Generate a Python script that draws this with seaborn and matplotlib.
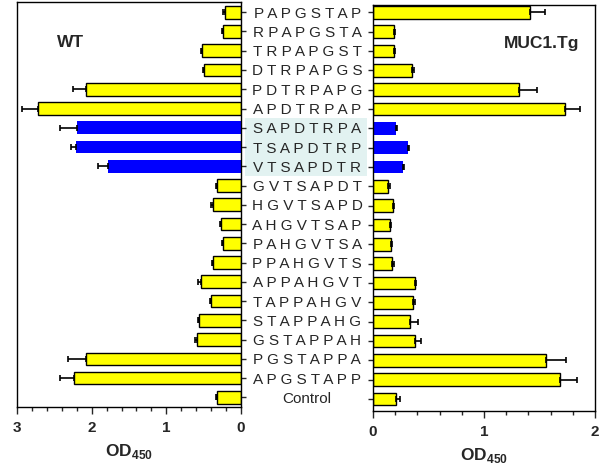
import numpy as np
import pandas as pd
import matplotlib
matplotlib.use("Agg")
import matplotlib.pyplot as plt
import seaborn as sns
from matplotlib.patches import Rectangle
from matplotlib.transforms import blended_transform_factory
from matplotlib.ticker import MultipleLocator

peptides = ["PAPGSTAP", "RPAPGSTA", "TRPAPGST", "DTRPAPGS", "PDTRPAPG", "APDTRPAP",
            "SAPDTRPA", "TSAPDTRP", "VTSAPDTR", "GVTSAPDT", "HGVTSAPD", "AHGVTSAP",
            "PAHGVTSA", "PPAHGVTS", "APPAHGVT", "TAPPAHGV", "STAPPAHG", "GSTAPPAH",
            "PGSTAPPA", "APGSTAPP", "Control"]
highlight = ["SAPDTRPA", "TSAPDTRP", "VTSAPDTR"]

wt_od = [0.21, 0.24, 0.52, 0.49, 2.08, 2.72, 2.19, 2.21, 1.78, 0.325, 0.38, 0.27,
         0.24, 0.37, 0.535, 0.40, 0.56, 0.585, 2.07, 2.235, 0.32]
wt_err = [0.035, 0.02, 0.015, 0.02, 0.17, 0.21, 0.24, 0.07, 0.13, 0.015, 0.02, 0.01,
          0.01, 0.02, 0.035, 0.02, 0.01, 0.025, 0.25, 0.185, 0.015]

tg_od = [1.415, 0.186, 0.186, 0.348, 1.316, 1.727, 0.207, 0.315, 0.267, 0.135, 0.18, 0.153,
         0.159, 0.171, 0.375, 0.357, 0.33, 0.38, 1.56, 1.68, 0.204]
tg_err = [0.135, 0.014, 0.014, 0.018, 0.165, 0.14, 0.01, 0.01, 0.01, 0.015, 0.01, 0.012,
          0.011, 0.015, 0.015, 0.02, 0.075, 0.05, 0.176, 0.16, 0.036]

sns.set_style("ticks")
plt.rcParams["font.family"] = ["Liberation Sans", "DejaVu Sans"]
plt.rcParams["mathtext.fontset"] = "custom"
plt.rcParams["mathtext.bf"] = "Liberation Sans:bold"
plt.rcParams["mathtext.rm"] = "Liberation Sans:bold"

df = pd.DataFrame({"peptide": peptides, "wt": wt_od, "tg": tg_od})
colors = ["#0000ff" if p in highlight else "#ffff00" for p in peptides]
pos = np.arange(len(peptides))

fig = plt.figure(figsize=(6, 4.65), dpi=100)
ax_l = fig.add_axes([0.0283, 0.1247, 0.3733, 0.871])
ax_r = fig.add_axes([0.6217, 0.1161, 0.37, 0.873])


def draw(ax, col, err):
    sns.barplot(data=df, x=col, y="peptide", hue="peptide", palette=colors,
                saturation=1, legend=False, orient="h", width=0.66, ax=ax, zorder=2)
    for p, c in zip(ax.patches, colors):
        if c == "#ffff00":
            p.set_edgecolor("black")
            p.set_linewidth(1.0)
        else:
            p.set_edgecolor(c)
            p.set_linewidth(0)
    ax.errorbar(df[col], pos, xerr=[np.zeros(len(err)), err], fmt="none",
                ecolor="black", elinewidth=1.2, capsize=2.5, capthick=1.2, zorder=3)
    ax.set_ylabel("")
    for s in ax.spines.values():
        s.set_linewidth(1.0)
        s.set_color("black")
    ax.xaxis.set_major_locator(MultipleLocator(1))
    ax.xaxis.set_minor_locator(MultipleLocator(0.2))
    ax.tick_params(axis="x", which="major", length=5, width=1, labelsize=11, pad=5)
    ax.tick_params(axis="x", which="minor", length=3, width=1)
    for t in ax.get_xticklabels():
        t.set_fontweight("bold")
    ax.set_xlabel(r"$\mathbf{OD}_{\mathbf{450}}$", fontsize=12.5, labelpad=5)


draw(ax_l, "wt", wt_err)
ax_l.set_xlim(3, 0)
ax_l.set_ylim(20.5, -0.53)
ax_l.yaxis.tick_right()
ax_l.tick_params(axis="y", length=3.6, width=1, pad=44, labelsize=11)
ax_l.set_yticks(pos)
ax_l.set_yticklabels([p if p == "Control" else " ".join(p) for p in peptides])
for t in ax_l.get_yticklabels():
    t.set_horizontalalignment("center")
ax_l.text(0.18, 0.9, "WT", transform=ax_l.transAxes, fontsize=12.5,
          fontweight="bold", va="center", ha="left")

draw(ax_r, "tg", tg_err)
ax_r.set_xlim(0, 2)
ax_r.set_ylim(20.62, -0.38)
ax_r.set_yticks(pos)
ax_r.set_yticklabels([])
ax_r.tick_params(axis="y", length=3.6, width=1)
ax_r.text(0.93, 0.906, "MUC1.Tg", transform=ax_r.transAxes, fontsize=12.5,
          fontweight="bold", va="center", ha="right")

# shaded band behind the highlighted peptide labels
idx = [peptides.index(p) for p in highlight]
trans = blended_transform_factory(fig.transFigure, ax_l.transData)
band = Rectangle((245 / 600, min(idx) - 0.5), 122 / 600, len(idx),
                 transform=trans, facecolor="#e2f2f1", edgecolor="none",
                 clip_on=False, zorder=0)
ax_l.add_patch(band)

fig.savefig("out.png", dpi=100)
